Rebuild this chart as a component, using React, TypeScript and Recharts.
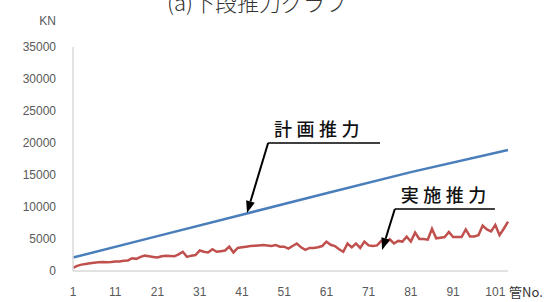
import { LineChart, Line, XAxis, YAxis, ReferenceLine } from 'recharts'

// 管No. 1..104
const pipeNo = Array.from({ length: 104 }, (_, i) => i + 1)

// 実施推力 (KN)
const actualThrust = [
  500, 800, 1000, 1100, 1200, 1300, 1350, 1400, 1350, 1400,
  1500, 1500, 1600, 1650, 2000, 1900, 2200, 2400, 2300, 2200,
  2100, 2300, 2400, 2350, 2300, 2600, 3000, 2200, 2400, 2500,
  3200, 3000, 2900, 3400, 3000, 3100, 3200, 3800, 2900, 3600,
  3700, 3800, 3900, 3950, 4000, 4050, 4000, 3900, 4050, 3800,
  3800, 3500, 3900, 4300, 3700, 3300, 3600, 3600, 3700, 3900,
  4600, 4100, 3900, 3400, 3000, 4300, 3700, 4300, 3600, 4600,
  4000, 3900, 4000, 4700, 4300, 4950, 4300, 4700, 4600, 5350,
  4600, 6000, 5000, 5000, 4900, 6600, 5100, 5200, 5300, 6100,
  5300, 5300, 5300, 6500, 5400, 5400, 5600, 7100, 6500, 6200,
  7200, 5600, 6600, 7700,
]

// 計画推力 (KN): straight plan line, given at a few pipe numbers
const planNo = [1, 21, 41, 61, 81, 104]
const planThrust = [2100, 5450, 8800, 12150, 15450, 18900]

const xTicks = [1, 11, 21, 31, 41, 51, 61, 71, 81, 91, 101]
const yTicks = [0, 5000, 10000, 15000, 20000, 25000, 30000, 35000]

const data = pipeNo.map((no, i) => {
  const k = planNo.indexOf(no)
  return { no, actual: actualThrust[i], plan: k >= 0 ? planThrust[k] : null }
})

// callouts, in data coordinates
const planCallout = { text: '計画推力', x1: 47.2, x2: 73.7, y: 20000, tipX: 42.2, tipY: 9060 }
const actualCallout = { text: '実施推力', x1: 77.2, x2: 100.9, y: 9690, tipX: 74.2, tipY: 3280 }

const axisGrey = '#d9d9d9'
const tickStyle = { fill: '#595959', fontSize: 12, fontFamily: 'Liberation Sans, Arial, sans-serif' }
const jpFont = '"Noto Sans CJK JP", sans-serif'

function Arrow(p: any) {
  const { x1, y1, x2, y2 } = p
  const ang = Math.atan2(y2 - y1, x2 - x1)
  const len = 12
  const hw = 4.5
  const bx = x2 - len * Math.cos(ang)
  const by = y2 - len * Math.sin(ang)
  const px = -Math.sin(ang) * hw
  const py = Math.cos(ang) * hw
  return (
    <g>
      <line x1={x1} y1={y1} x2={bx} y2={by} stroke="#000" strokeWidth={2} />
      <polygon points={`${x2},${y2} ${bx + px},${by + py} ${bx - px},${by - py}`} fill="#000" />
    </g>
  )
}

function underline(text: string) {
  return (p: any) => (
    <g>
      <line x1={p.x1} y1={p.y1} x2={p.x2} y2={p.y2} stroke="#000" strokeWidth={1.5} />
      <text
        x={p.x1 + 6}
        y={p.y1 - 7}
        fontSize={18}
        fontWeight={500}
        letterSpacing={4.5}
        fontFamily={jpFont}
        fill="#111"
      >
        {text}
      </text>
    </g>
  )
}

export default function App() {
  return (
    <div style={{ position: 'relative', width: 556, height: 302, background: '#fff', overflow: 'hidden' }}>
      <style>{`body{margin:0}`}</style>
      <div
        style={{
          position: 'absolute',
          left: 0,
          width: 514,
          top: -13,
          textAlign: 'center',
          fontSize: 22,
          fontWeight: 300,
          color: '#333',
          fontFamily: jpFont,
          lineHeight: '28px',
        }}
      >
        (a)下段推力グラフ
      </div>
      <LineChart width={556} height={302} data={data} margin={{ top: 47, right: 48, bottom: 0, left: 0 }}>
        <XAxis
          dataKey="no"
          type="number"
          domain={[1, 104]}
          ticks={xTicks}
          interval={0}
          tickLine={false}
          tickSize={0}
          tickMargin={16}
          height={31}
          axisLine={{ stroke: axisGrey, strokeWidth: 1.5 }}
          tick={tickStyle}
          label={{ value: '管No.', position: 'right', offset: 1, dy: 6, fill: '#333', fontSize: 13, fontFamily: jpFont }}
        />
        <YAxis
          domain={[0, 35000]}
          ticks={yTicks}
          interval={0}
          width={73}
          tickLine={false}
          tickSize={0}
          tickMargin={17}
          axisLine={{ stroke: axisGrey, strokeWidth: 1.5 }}
          tick={tickStyle}
          label={{ value: 'KN', position: 'top', offset: 22, dx: 11, fill: '#595959', fontSize: 12, fontFamily: 'Liberation Sans, Arial, sans-serif' }}
        />
        <Line
          dataKey="plan"
          stroke="#4a7ebb"
          strokeWidth={2.5}
          dot={false}
          connectNulls
          isAnimationActive={false}
        />
        <Line
          dataKey="actual"
          stroke="#c0504d"
          strokeWidth={2.5}
          dot={false}
          isAnimationActive={false}
        />
        <ReferenceLine
          segment={[{ x: planCallout.x1, y: planCallout.y }, { x: planCallout.tipX, y: planCallout.tipY }]}
          shape={(p: any) => <Arrow {...p} />}
        />
        <ReferenceLine
          segment={[{ x: planCallout.x1, y: planCallout.y }, { x: planCallout.x2, y: planCallout.y }]}
          shape={underline(planCallout.text)}
        />
        <ReferenceLine
          segment={[{ x: actualCallout.x1, y: actualCallout.y }, { x: actualCallout.tipX, y: actualCallout.tipY }]}
          shape={(p: any) => <Arrow {...p} />}
        />
        <ReferenceLine
          segment={[{ x: actualCallout.x1, y: actualCallout.y }, { x: actualCallout.x2, y: actualCallout.y }]}
          shape={underline(actualCallout.text)}
        />
      </LineChart>
    </div>
  )
}
